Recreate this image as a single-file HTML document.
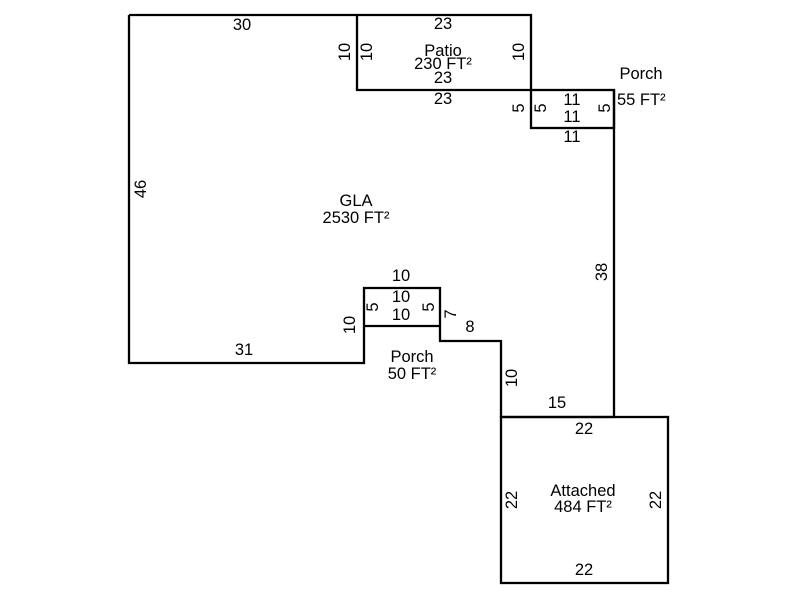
<!DOCTYPE html>
<html><head><style>body{margin:0;background:#fff}svg{display:block}</style></head><body>
<svg width="800" height="600" xmlns="http://www.w3.org/2000/svg" font-family="Liberation Sans, Arial, sans-serif" font-size="16.5" fill="#000">
<g fill="none" stroke="#000" stroke-width="2.3">
<path d="M129,15 H531 V90 H357 V15"/>
<path d="M129,15 V363 H364 V288 H440 V341 H501 V417 H614 V90"/>
<path d="M364,326 H440"/>
<rect x="531" y="90" width="83" height="38"/>
<rect x="501" y="417" width="167" height="166"/>
</g>
<g text-anchor="middle" dominant-baseline="central">
<text x="242" y="25">30</text>
<text x="443" y="24">23</text>
<text x="443" y="51">Patio</text>
<text x="443" y="64">230 FT²</text>
<text x="443" y="78">23</text>
<text x="443" y="99">23</text>
<text transform="translate(345,52) rotate(-90)">10</text>
<text transform="translate(367,52) rotate(-90)">10</text>
<text transform="translate(519,52) rotate(-90)">10</text>
<text x="641" y="74">Porch</text>
<text x="617" y="100" text-anchor="start">55 FT²</text>
<text x="572" y="100">11</text>
<text x="572" y="117">11</text>
<text x="572" y="137">11</text>
<text transform="translate(519,108) rotate(-90)">5</text>
<text transform="translate(541,108) rotate(-90)">5</text>
<text transform="translate(605,108) rotate(-90)">5</text>
<text transform="translate(141,189) rotate(-90)">46</text>
<text x="356" y="201">GLA</text>
<text x="356" y="218">2530 FT²</text>
<text transform="translate(602,272) rotate(-90)">38</text>
<text x="401" y="276">10</text>
<text x="401" y="297">10</text>
<text x="401" y="315">10</text>
<text transform="translate(373,307) rotate(-90)">5</text>
<text transform="translate(429,307) rotate(-90)">5</text>
<text transform="translate(451,314) rotate(-90)">7</text>
<text x="470" y="327">8</text>
<text transform="translate(350,325) rotate(-90)">10</text>
<text x="244" y="350">31</text>
<text x="412" y="357">Porch</text>
<text x="412" y="374">50 FT²</text>
<text transform="translate(512,378) rotate(-90)">10</text>
<text x="557" y="403">15</text>
<text x="584" y="429">22</text>
<text x="583" y="491">Attached</text>
<text x="583" y="507">484 FT²</text>
<text transform="translate(512,500) rotate(-90)">22</text>
<text transform="translate(656,500) rotate(-90)">22</text>
<text x="584" y="570">22</text>
</g>
</svg>
</body></html>
